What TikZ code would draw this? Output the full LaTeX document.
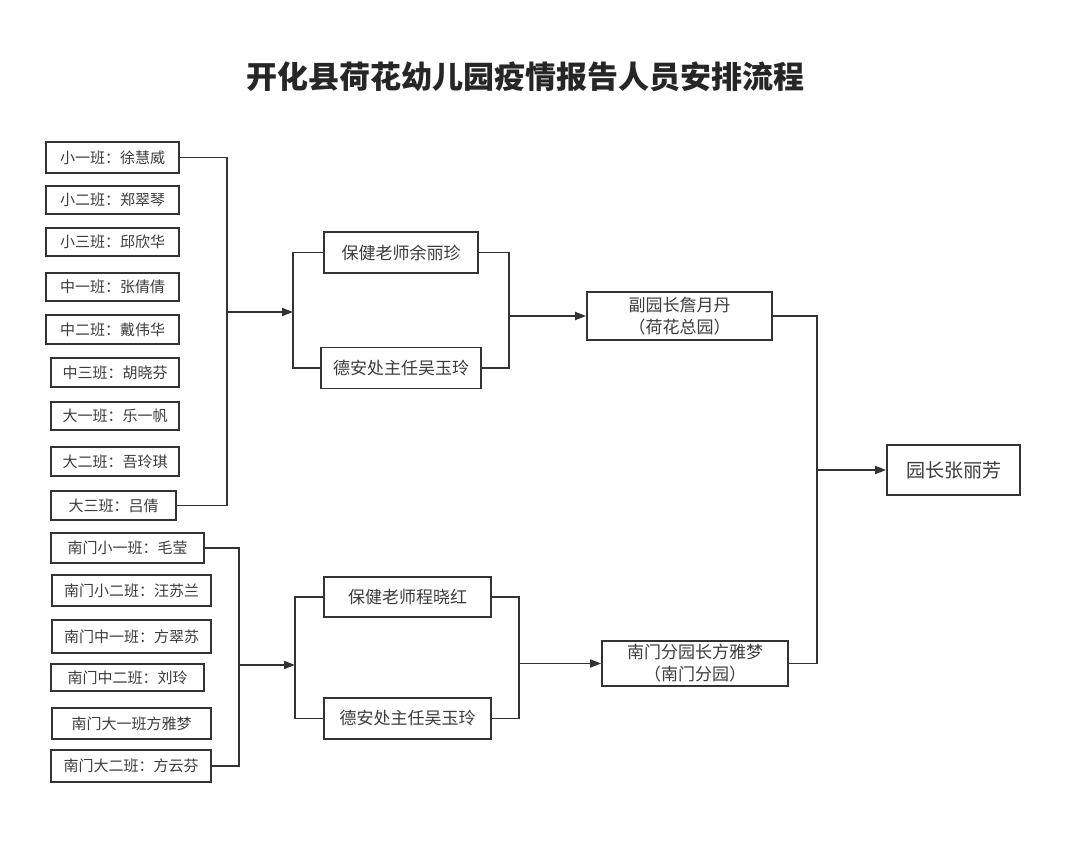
\documentclass[tikz,border=0pt]{standalone}
\usepackage{fontspec}
\setmainfont{Noto Sans CJK SC}
\usetikzlibrary{arrows.meta, positioning}
\definecolor{cline}{HTML}{333333}
\definecolor{ctext}{HTML}{3C3C3C}
\tikzset{
  every picture/.style={x=1pt, y=-1pt, line width=1.7pt},
  box/.style={draw=cline, fill=white, inner sep=0pt, align=center, text=ctext},
  cls/.style={box, font=\fontsize{15pt}{18pt}\selectfont},
  mid/.style={box, font=\fontsize{17pt}{22pt}\selectfont},
  link/.style={draw=cline},
  arrow/.style={-{Triangle[length=11pt, width=8pt]}, draw=cline},
  title/.style={font=\bfseries\fontsize{31pt}{34pt}\selectfont, text=black!85},
}

\begin{document}
\begin{tikzpicture}
  \useasboundingbox[fill=white] (0,0) rectangle (1080,842);
  \node[title] (head) at (525.5,77) {开化县荷花幼儿园疫情报告人员安排流程};

  % classes of the main garden
  \node[cls, minimum width=133, minimum height=31] (x1) at (112.5,157.5) {小一班：徐慧威};
  \node[cls, minimum width=133, minimum height=28] (x2) at (112.5,200) {小二班：郑翠琴};
  \node[cls, minimum width=133, minimum height=28] (x3) at (112.5,242) {小三班：邱欣华};
  \node[cls, minimum width=133, minimum height=28] (x4) at (112.5,287) {中一班：张倩倩};
  \node[cls, minimum width=133, minimum height=29] (x5) at (112.5,329.5) {中二班：戴伟华};
  \node[cls, minimum width=128, minimum height=29] (x6) at (115,372.5) {中三班：胡晓芬};
  \node[cls, minimum width=128, minimum height=28] (x7) at (115,416) {大一班：乐一帆};
  \node[cls, minimum width=128, minimum height=29] (x8) at (115,461.5) {大二班：吾玲琪};
  \node[cls, minimum width=125, minimum height=29] (x9) at (113.5,505.5) {大三班：吕倩};

  % classes of the south gate garden
  \node[cls, minimum width=153, minimum height=30] (n1) at (127.5,548) {南门小一班：毛莹};
  \node[cls, minimum width=159, minimum height=31] (n2) at (131.5,590.5) {南门小二班：汪苏兰};
  \node[cls, minimum width=159, minimum height=33] (n3) at (131.5,636.5) {南门中一班：方翠苏};
  \node[cls, minimum width=153, minimum height=27] (n4) at (127.5,677.5) {南门中二班：刘玲};
  \node[cls, minimum width=159, minimum height=31] (n5) at (131.5,723.5) {南门大一班方雅梦};
  \node[cls, minimum width=160, minimum height=32] (n6) at (131,766) {南门大二班：方云芬};

  % health teachers and office heads
  \node[mid, minimum width=154, minimum height=41] (t1) at (401,252.5) {保健老师余丽珍};
  \node[mid, minimum width=160, minimum height=41] (t2) at (401,368) {德安处主任吴玉玲};
  \node[mid, minimum width=167, minimum height=40] (b1) at (407.5,597) {保健老师程晓红};
  \node[mid, minimum width=167, minimum height=41] (b2) at (407.5,718.5) {德安处主任吴玉玲};

  % deputies and head
  \node[mid, minimum width=185, minimum height=48] (fy) at (679.5,316) {副园长詹月丹\\（荷花总园）};
  \node[mid, minimum width=186, minimum height=45] (nm) at (695,663.5) {南门分园长方雅梦\\（南门分园）};
  \node[box, font=\fontsize{19pt}{22pt}\selectfont, minimum width=133, minimum height=50] (yz) at (953.5,470) {园长张丽芳};

  % junctions
  \coordinate (jA) at (227,312);
  \coordinate (bA) at (293,312);
  \coordinate (cA) at (509,316);
  \coordinate (jB) at (239,665);
  \coordinate (bB) at (295,665);
  \coordinate (cB) at (519,663.5);
  \coordinate (dR) at (817,470);

  \draw[link] (x1.east) -| (jA) |- (x9.east);
  \draw[arrow] (jA) -- (bA);
  \draw[link] (t1.west) -| (bA) |- (t2.west);
  \draw[link] (t1.east) -| (cA) |- (t2.east);
  \draw[arrow] (cA) -- (fy.west);

  \draw[link] (n1.east) -| (jB) |- (n6.east);
  \draw[arrow] (jB) -- (bB);
  \draw[link] (b1.west) -| (bB) |- (b2.west);
  \draw[link] (b1.east) -| (cB) |- (b2.east);
  \draw[arrow] (cB) -- (nm.west);

  \draw[link] (fy.east) -| (dR) |- (nm.east);
  \draw[arrow] (dR) -- (yz.west);
\end{tikzpicture}
\end{document}
